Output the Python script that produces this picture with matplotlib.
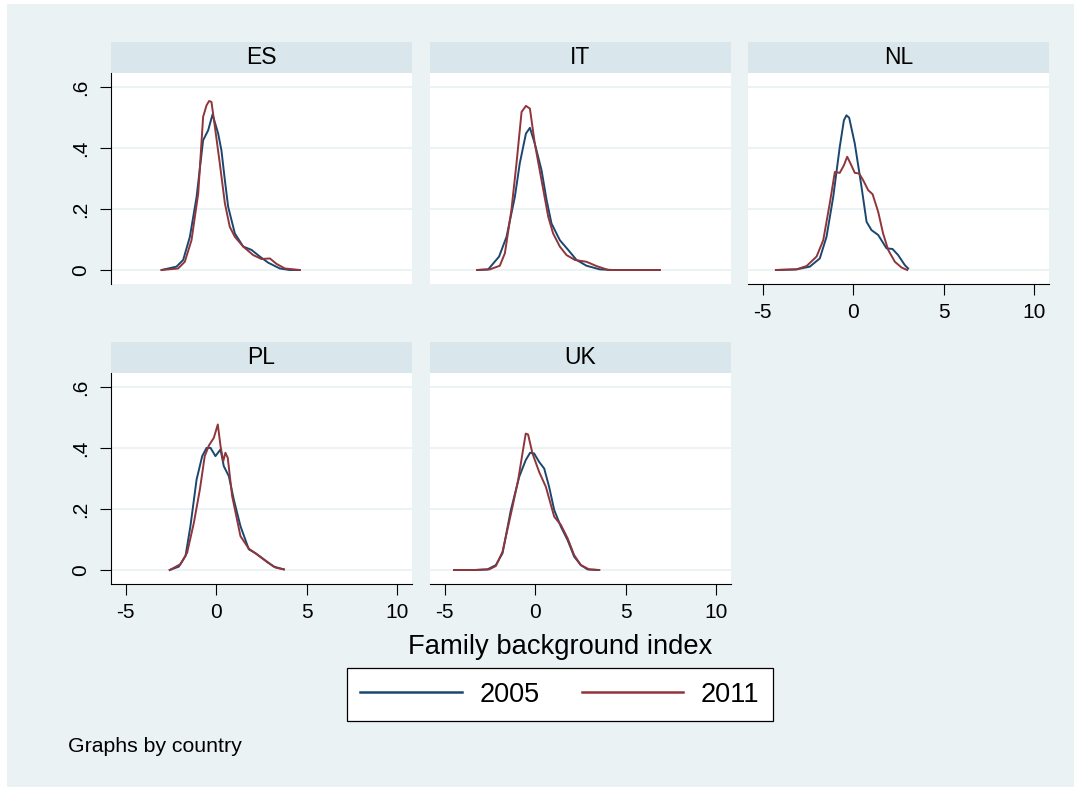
#!/usr/bin/env python3
import matplotlib
matplotlib.use("Agg")
import matplotlib.pyplot as plt
from matplotlib.lines import Line2D
from matplotlib.patches import Rectangle

plt.rcParams["font.family"] = ["Liberation Sans", "DejaVu Sans"]
plt.rcParams["axes.unicode_minus"] = False

countries = ["ES", "IT", "NL", "PL", "UK"]
years = ["2005", "2011"]

# density curves: (x, density)
es_x_2005 = [-3.01, -2.19, -1.82, -1.45, -1.08, -0.72, -0.44, -0.20, 0.11, 0.29, 0.48, 0.66, 1.03, 1.49, 1.95, 2.41, 2.87, 3.51, 4.06, 4.61]
es_y_2005 = [0.0, 0.011, 0.033, 0.109, 0.24, 0.426, 0.459, 0.511, 0.448, 0.393, 0.295, 0.208, 0.12, 0.077, 0.066, 0.044, 0.024, 0.005, 0.0, 0.0]
es_x_2011 = [-3.01, -2.1, -1.73, -1.36, -0.99, -0.72, -0.53, -0.39, -0.26, -0.07, 0.20, 0.48, 0.75, 1.03, 1.49, 2.04, 2.5, 2.96, 3.33, 3.79, 4.61]
es_y_2011 = [0.0, 0.005, 0.027, 0.098, 0.251, 0.503, 0.541, 0.555, 0.552, 0.47, 0.35, 0.219, 0.142, 0.109, 0.077, 0.049, 0.036, 0.038, 0.02, 0.005, 0.0]

it_x_2005 = [-3.2, -2.59, -1.99, -1.58, -1.12, -0.85, -0.51, -0.29, -0.02, 0.35, 0.63, 0.90, 1.36, 1.82, 2.28, 2.83, 3.57, 4.3, 6.87]
it_y_2005 = [0.0, 0.002, 0.044, 0.109, 0.24, 0.35, 0.448, 0.467, 0.415, 0.328, 0.23, 0.153, 0.098, 0.066, 0.033, 0.014, 0.002, 0.0, 0.0]
it_x_2011 = [-3.2, -2.5, -1.95, -1.67, -1.31, -1.03, -0.75, -0.51, -0.29, -0.02, 0.35, 0.72, 0.99, 1.36, 1.73, 2.19, 2.83, 3.38, 4.03, 6.87]
it_y_2011 = [0.0, 0.002, 0.014, 0.055, 0.197, 0.35, 0.519, 0.539, 0.53, 0.415, 0.295, 0.175, 0.12, 0.077, 0.049, 0.033, 0.027, 0.013, 0.0, 0.0]

nl_x_2005 = [-4.26, -3.13, -2.39, -1.84, -1.47, -1.10, -0.74, -0.51, -0.37, -0.22, 0.09, 0.46, 0.74, 1.01, 1.38, 1.84, 2.17, 2.48, 2.85, 3.03]
nl_y_2005 = [0.0, 0.002, 0.011, 0.038, 0.109, 0.24, 0.404, 0.492, 0.508, 0.5, 0.415, 0.273, 0.158, 0.131, 0.115, 0.071, 0.069, 0.049, 0.016, 0.005]
nl_x_2011 = [-4.26, -3.13, -2.57, -2.02, -1.65, -1.29, -1.01, -0.74, -0.51, -0.33, -0.15, 0.09, 0.33, 0.55, 0.83, 1.07, 1.38, 1.65, 1.93, 2.3, 2.67, 2.98]
nl_y_2011 = [0.0, 0.002, 0.013, 0.044, 0.098, 0.219, 0.322, 0.319, 0.344, 0.372, 0.35, 0.319, 0.317, 0.295, 0.262, 0.249, 0.191, 0.12, 0.066, 0.027, 0.008, 0.0]

pl_x_2005 = [-2.56, -2.06, -1.69, -1.42, -1.08, -0.77, -0.53, -0.31, -0.04, 0.24, 0.42, 0.70, 0.97, 1.34, 1.80, 2.17, 2.63, 3.18, 3.73]
pl_y_2005 = [0.0, 0.011, 0.046, 0.144, 0.297, 0.374, 0.401, 0.401, 0.374, 0.396, 0.341, 0.308, 0.232, 0.144, 0.068, 0.055, 0.035, 0.011, 0.002]
pl_x_2011 = [-2.56, -1.97, -1.60, -1.23, -0.90, -0.63, -0.40, -0.13, 0.09, 0.24, 0.39, 0.51, 0.64, 0.88, 1.34, 1.80, 2.26, 2.81, 3.27, 3.73]
pl_y_2011 = [0.0, 0.019, 0.057, 0.155, 0.264, 0.374, 0.409, 0.434, 0.478, 0.407, 0.357, 0.385, 0.368, 0.243, 0.111, 0.07, 0.051, 0.026, 0.008, 0.002]

uk_x_2005 = [-4.47, -3.37, -2.63, -2.17, -1.80, -1.34, -0.88, -0.52, -0.28, -0.06, 0.22, 0.5, 0.77, 1.05, 1.42, 1.79, 2.15, 2.52, 2.89, 3.44]
uk_y_2005 = [0.0, 0.0, 0.002, 0.016, 0.055, 0.197, 0.306, 0.361, 0.385, 0.383, 0.355, 0.333, 0.273, 0.197, 0.142, 0.098, 0.044, 0.016, 0.002, 0.0]
uk_x_2011 = [-4.47, -3.28, -2.54, -2.17, -1.80, -1.25, -0.94, -0.70, -0.52, -0.39, -0.15, 0.22, 0.59, 1.05, 1.42, 1.79, 2.15, 2.52, 2.98, 3.54]
uk_y_2011 = [0.0, 0.0, 0.002, 0.013, 0.06, 0.208, 0.295, 0.383, 0.448, 0.445, 0.383, 0.322, 0.273, 0.175, 0.148, 0.104, 0.049, 0.016, 0.002, 0.0]

x_ticks = [-5, 0, 5, 10]
y_ticks = [0, 0.2, 0.4, 0.6]
y_ticklabels = ["0", ".2", ".4", ".6"]

curves = {
	"ES": ((es_x_2005, es_y_2005), (es_x_2011, es_y_2011)),
	"IT": ((it_x_2005, it_y_2005), (it_x_2011, it_y_2011)),
	"NL": ((nl_x_2005, nl_y_2005), (nl_x_2011, nl_y_2011)),
	"PL": ((pl_x_2005, pl_y_2005), (pl_x_2011, pl_y_2011)),
	"UK": ((uk_x_2005, uk_y_2005), (uk_x_2011, uk_y_2011)),
}

BG = "#EAF2F3"
STRIP = "#D9E6EB"
colors = ["#1A476F", "#90353B"]

W, H = 1074, 787
fig = plt.figure(figsize=(W / 100, H / 100), dpi=100, facecolor="white")
fig.patches.append(Rectangle((7 / W, 0), 1, 1 - 4 / H, transform=fig.transFigure, facecolor=BG, edgecolor="none", zorder=-10))

def frac(x0, y0, x1, y1):
	return [x0 / W, 1 - y1 / H, (x1 - x0) / W, (y1 - y0) / H]

col_left = [111, 430, 748]
row_top = [42, 342]
pw = 301
strip_h = 31
plot_h = 211

# (row, col, show y axis, show x axis)
layout = {
	"ES": (0, 0, True, False),
	"IT": (0, 1, False, False),
	"NL": (0, 2, False, True),
	"PL": (1, 0, True, True),
	"UK": (1, 1, False, True),
}

for c in countries:
	r, k, show_y, show_x = layout[c]
	x0 = col_left[k]
	y0 = row_top[r]
	sax = fig.add_axes(frac(x0, y0, x0 + pw, y0 + strip_h))
	sax.set_facecolor(STRIP)
	sax.set_xticks([])
	sax.set_yticks([])
	for s in sax.spines.values():
		s.set_visible(False)
	sax.text(0.5, 0.5, c, ha="center", va="center", fontsize=16.5, transform=sax.transAxes)

	ax = fig.add_axes(frac(x0, y0 + strip_h, x0 + pw, y0 + strip_h + plot_h))
	ax.set_facecolor("white")
	for y in y_ticks:
		ax.axhline(y, color=BG, lw=1.3, zorder=1)
	for (xs, ys), col in zip(curves[c], colors):
		ax.plot(xs, ys, color=col, lw=1.4, zorder=3)
	ax.set_xlim(-5.8, 10.8)
	ax.set_ylim(-0.046, 0.647)
	for s in ax.spines.values():
		s.set_visible(False)
	ax.set_xticks(x_ticks)
	ax.set_yticks(y_ticks)
	ax.set_yticklabels(y_ticklabels, rotation=90, va="center")
	ax.tick_params(axis="both", length=8, width=0.8, labelsize=15, color="black")
	ax.tick_params(axis="x", pad=6)
	ax.tick_params(axis="y", pad=7)
	if show_y:
		ax.spines["left"].set_visible(True)
		ax.spines["left"].set_linewidth(0.8)
	else:
		ax.tick_params(axis="y", left=False, labelleft=False)
	if show_x:
		ax.spines["bottom"].set_visible(True)
		ax.spines["bottom"].set_linewidth(0.8)
	else:
		ax.tick_params(axis="x", bottom=False, labelbottom=False)

fig.text(560 / W, 1 - 647 / H, "Family background index", ha="center", va="center", fontsize=19.7)

handles = [Line2D([], [], color=col, lw=1.8) for col in colors]
leg = fig.legend(handles, years, loc="center", bbox_to_anchor=(560 / W, 1 - 694.5 / H),
	ncol=2, fontsize=19.5, frameon=True, fancybox=False, edgecolor="black", framealpha=1,
	handlelength=3.75, handletextpad=0.65, columnspacing=1.55, borderpad=0.5, borderaxespad=0)
leg.get_frame().set_linewidth(0.9)
leg.get_frame().set_facecolor("white")

fig.text(68 / W, 1 - 746 / H, "Graphs by country", ha="left", va="center", fontsize=15.3)

plt.savefig("out.png", dpi=100, facecolor=fig.get_facecolor())
